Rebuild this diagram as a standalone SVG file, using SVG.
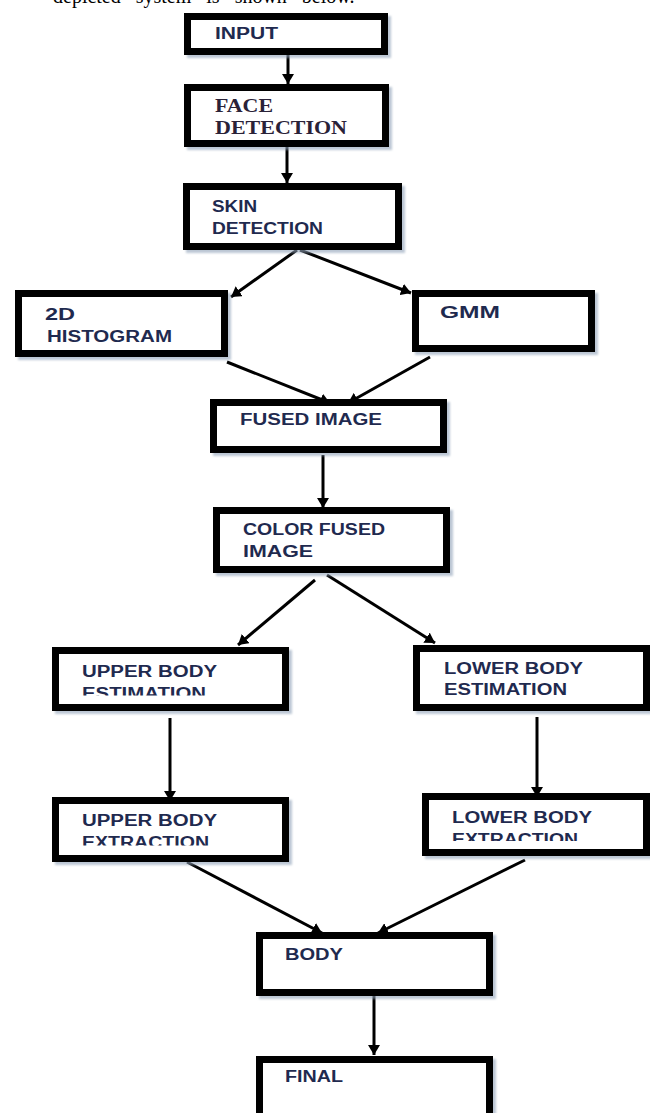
<svg xmlns="http://www.w3.org/2000/svg" width="650" height="1113" viewBox="0 0 650 1113">
<style>
.box{fill:#ffffff;stroke:#000000;stroke-width:7;filter:url(#sh)}
.t{font-family:"Liberation Sans",Arial,sans-serif;font-weight:bold;font-size:16px;fill:#1f2a4f}
.ts{font-family:"Liberation Serif","Times New Roman",serif;font-weight:bold;font-size:18px;fill:#2a2238}
.c{stroke:#000000;stroke-width:3;fill:none;marker-end:url(#ah)}
.cap{font-family:"Liberation Serif","Times New Roman",serif;font-size:20px;fill:#000000;word-spacing:10px}
</style>
<defs>
<marker id="ah" markerUnits="userSpaceOnUse" markerWidth="12" markerHeight="12" refX="10" refY="6" orient="auto"><path d="M0,0 L10,6 L0,12 z" fill="#000000"/></marker>
<filter id="sh" x="-10%" y="-10%" width="130%" height="140%"><feDropShadow dx="3" dy="3" stdDeviation="1.2" flood-color="#8fa2b8" flood-opacity="0.6"/></filter>
<clipPath id="c1"><rect x="60" y="650" width="220" height="45.5"/></clipPath>
<clipPath id="c2"><rect x="60" y="800" width="220" height="45.5"/></clipPath>
<clipPath id="c3"><rect x="430" y="796" width="210" height="45"/></clipPath>
</defs>
<rect width="650" height="1113" fill="#ffffff"/>
<text class="cap" x="53" y="3">depicted system is shown below.</text>
<g id="connectors">
<line class="c" x1="288" y1="55" x2="288" y2="84"/>
<line class="c" x1="287" y1="147" x2="287" y2="183"/>
<line class="c" x1="297" y1="250" x2="231" y2="297"/>
<line class="c" x1="300" y1="250" x2="411" y2="293"/>
<line class="c" x1="227" y1="362" x2="330" y2="403"/>
<line class="c" x1="430" y1="357" x2="348" y2="403"/>
<line class="c" x1="323" y1="455" x2="323" y2="508"/>
<line class="c" x1="315" y1="580" x2="238" y2="645"/>
<line class="c" x1="327" y1="575" x2="435" y2="643"/>
<line class="c" x1="170" y1="718" x2="170" y2="801"/>
<line class="c" x1="537" y1="717" x2="537" y2="797"/>
<line class="c" x1="187" y1="862" x2="322" y2="933"/>
<line class="c" x1="525" y1="860" x2="378" y2="933"/>
<line class="c" x1="374" y1="996" x2="374" y2="1055"/>
</g>
<g id="input"><rect class="box" x="187.5" y="16.5" width="197" height="35"/><text class="t" x="215" y="39" textLength="63" lengthAdjust="spacingAndGlyphs">INPUT</text></g>
<g id="face"><rect class="box" x="187.5" y="87.5" width="198" height="56"/><text class="ts" x="215" y="112" textLength="58" lengthAdjust="spacingAndGlyphs">FACE</text><text class="ts" x="215" y="134" textLength="132" lengthAdjust="spacingAndGlyphs">DETECTION</text></g>
<g id="skin"><rect class="box" x="186.5" y="186.5" width="212" height="60"/><text class="t" x="212" y="212" textLength="45" lengthAdjust="spacingAndGlyphs">SKIN</text><text class="t" x="212" y="234" textLength="111" lengthAdjust="spacingAndGlyphs">DETECTION</text></g>
<g id="hist"><rect class="box" x="18.5" y="293.5" width="206" height="60"/><text class="t" x="45" y="320" textLength="30" lengthAdjust="spacingAndGlyphs">2D</text><text class="t" x="47" y="342" textLength="125" lengthAdjust="spacingAndGlyphs">HISTOGRAM</text></g>
<g id="gmm"><rect class="box" x="415.5" y="293.5" width="176" height="55"/><text class="t" x="440" y="318" textLength="60" lengthAdjust="spacingAndGlyphs">GMM</text></g>
<g id="fused"><rect class="box" x="213.5" y="402.5" width="230" height="47"/><text class="t" x="240" y="425" textLength="142" lengthAdjust="spacingAndGlyphs">FUSED IMAGE</text></g>
<g id="color"><rect class="box" x="216.5" y="510.5" width="230" height="59"/><text class="t" x="243" y="535" textLength="142" lengthAdjust="spacingAndGlyphs">COLOR FUSED</text><text class="t" x="243" y="557" textLength="70" lengthAdjust="spacingAndGlyphs">IMAGE</text></g>
<g id="upperEst"><rect class="box" x="55.5" y="650.5" width="230" height="57"/><text class="t" x="82" y="677" textLength="135" lengthAdjust="spacingAndGlyphs">UPPER BODY</text><text class="t" x="82" y="699" textLength="124" lengthAdjust="spacingAndGlyphs" clip-path="url(#c1)">ESTIMATION</text></g>
<g id="lowerEst"><rect class="box" x="416.5" y="648.5" width="230" height="59"/><text class="t" x="444" y="674" textLength="139" lengthAdjust="spacingAndGlyphs">LOWER BODY</text><text class="t" x="444" y="695" textLength="123" lengthAdjust="spacingAndGlyphs">ESTIMATION</text></g>
<g id="upperExt"><rect class="box" x="55.5" y="800.5" width="230" height="58"/><text class="t" x="82" y="826" textLength="135" lengthAdjust="spacingAndGlyphs">UPPER BODY</text><text class="t" x="82" y="848" textLength="127" lengthAdjust="spacingAndGlyphs" clip-path="url(#c2)">EXTRACTION</text></g>
<g id="lowerExt"><rect class="box" x="425.5" y="796.5" width="221" height="56"/><text class="t" x="452" y="823" textLength="140" lengthAdjust="spacingAndGlyphs">LOWER BODY</text><text class="t" x="452" y="845" textLength="126" lengthAdjust="spacingAndGlyphs" clip-path="url(#c3)">EXTRACTION</text></g>
<g id="body"><rect class="box" x="259.5" y="935.5" width="230" height="57"/><text class="t" x="285" y="960" textLength="58" lengthAdjust="spacingAndGlyphs">BODY</text></g>
<g id="final"><rect class="box" x="259.5" y="1059.5" width="230" height="70"/><text class="t" x="285" y="1082" textLength="58" lengthAdjust="spacingAndGlyphs">FINAL</text></g>
</svg>
